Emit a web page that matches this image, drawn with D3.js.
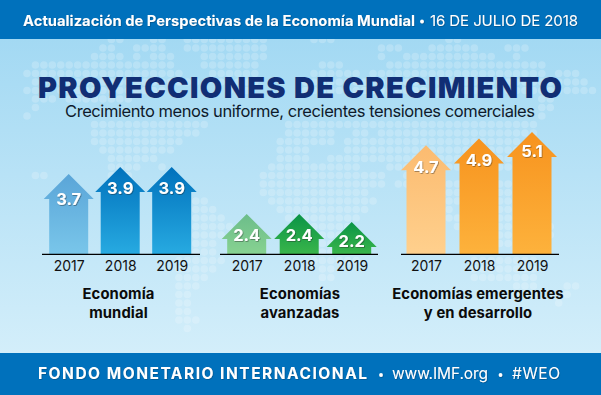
<!DOCTYPE html>
<html><head><meta charset="utf-8">
<script src="https://cdn.jsdelivr.net/npm/d3@7/dist/d3.min.js"></script>
<style>
html,body{margin:0;padding:0;background:#fff}
svg{display:block}
text{font-family:Inter,"Noto Sans",sans-serif}
</style></head><body><div id="c"></div>
<script>
const years = ["2017","2018","2019"];
const mundial = [3.7,3.9,3.9];
const avanzadas = [2.4,2.4,2.2];
const emergentes = [4.7,4.9,5.1];
const panelLabels = [["Economía","mundial"],["Economías","avanzadas"],["Economías emergentes","y en desarrollo"]];
const headerLead = "Actualización de Perspectivas de la Economía Mundial";
const headerDate = "16 DE JULIO DE 2018";
const titleText = "PROYECCIONES DE CRECIMIENTO";
const subtitleText = "Crecimiento menos uniforme, crecientes tensiones comerciales";
const footerOrg = "FONDO MONETARIO INTERNACIONAL";
const footerUrl = "www.IMF.org";
const footerTag = "#WEO";
// background dot-map: runs of columns per row
const mapRows = [
[[10,11],[15,16],[19,28],[34,36],[50,51]],
[[9,10],[13,16],[19,28],[42,44],[48,53],[57,59]],
[[8,11],[13,13],[15,17],[21,28],[42,42],[45,55],[58,58]],
[[1,17],[21,27],[35,37],[43,61]],
[[0,18],[22,27],[34,39],[41,61],[63,65]],
[[1,20],[23,27],[33,66]],
[[0,2],[4,16],[24,26],[33,67]],
[[1,3],[5,12],[61,62]],
[[1,1],[61,62]],
[[0,0],[61,61]],
[[8,21],[31,60]],
[[8,20],[31,36],[39,40],[42,60]],
[[8,18],[30,36],[38,58]],
[[9,17],[30,33],[38,58]],
[[10,15],[30,33],[36,58]],
[[10,13],[16,16],[29,39],[43,58]],
[[1,2],[10,12],[28,42],[45,46]],
[[28,42],[44,47],[50,51],[56,58]],
[[28,40],[50,51],[56,57]],
[[20,21],[29,41],[50,51],[56,57]],
[[20,22],[30,40],[50,50],[56,57]],
[[20,23],[31,39],[50,51],[56,57]],
[[20,24],[32,38],[51,51],[56,62]],
[[20,23],[33,37],[56,62]],
[[20,22],[33,37],[56,60]],
[[20,22],[33,36]],
[[18,23],[34,39],[53,60]],
[[18,22],[35,36],[53,60]],
[[18,21],[35,36],[53,60]],
[[18,20],[58,60],[64,65]],
[[18,19],[58,60],[64,64]],
[[18,19],[63,63]],
[[18,19]],
[[18,20]],
[[19,19]]
];

const W=601,H=395;
const svg=d3.select("#c").append("svg").attr("width",W).attr("height",H).attr("viewBox",`0 0 ${W} ${H}`);
const defs=svg.append("defs");
function grad(id,a,b){const g=defs.append("linearGradient").attr("id",id).attr("x1",0).attr("y1",0).attr("x2",0).attr("y2",1);
 g.append("stop").attr("offset",0).attr("stop-color",a);g.append("stop").attr("offset",1).attr("stop-color",b);}
grad("sky","#a3d9f3","#d3eefa");
grad("b0","#5aa5d8","#79c6ea");grad("b1","#0071bc","#27aae1");
grad("g0","#6cbd8a","#87d291");grad("g1","#0a9447","#39b54a");
grad("o0","#fbbb70","#ffd08d");grad("o1","#f7931e","#fdb23c");
const f=defs.append("filter").attr("id","ds").attr("x","-20%").attr("y","-30%").attr("width","140%").attr("height","170%");
f.append("feDropShadow").attr("dx",0.7).attr("dy",0.8).attr("stdDeviation",0.5).attr("flood-color","#222").attr("flood-opacity",0.5);
const f2=defs.append("filter").attr("id","ds2").attr("x","-5%").attr("y","-30%").attr("width","110%").attr("height","170%");
f2.append("feDropShadow").attr("dx",0.6).attr("dy",0.7).attr("stdDeviation",0.4).attr("flood-color","#003a66").attr("flood-opacity",0.6);

svg.append("rect").attr("y",39).attr("width",W).attr("height",314).attr("fill","url(#sky)");

// dot map
const dots=[];
mapRows.forEach((runs,r)=>runs.forEach(([a,b])=>{for(const c of d3.range(a,b+1))dots.push([c,r]);}));
const dx=d3.scaleLinear().domain([0,67]).range([27,27+67*8.44]);
const dy=d3.scaleLinear().domain([0,34]).range([39.5,39.5+34*8.5]);
svg.append("g").selectAll("circle").data(dots).join("circle")
 .attr("cx",d=>dx(d[0])).attr("cy",d=>dy(d[1])).attr("r",3.8).attr("fill","#fff").attr("opacity",0.2);

// bands
svg.append("rect").attr("width",W).attr("height",39).attr("fill","#0071bc");
svg.append("rect").attr("y",353).attr("width",W).attr("height",42).attr("fill","#0071bc");

// header
const hdr=svg.append("g").attr("fill","#fff").attr("filter","url(#ds2)");
hdr.append("text").attr("x",23).attr("y",26).attr("font-size",14.7).attr("font-weight",700).attr("textLength",392).text(headerLead);
hdr.append("circle").attr("cx",422).attr("cy",21.5).attr("r",1.9);
hdr.append("text").attr("x",430).attr("y",26).attr("font-size",15).attr("font-weight",400).attr("textLength",148).text(headerDate);

// title
svg.append("text").attr("x",38).attr("y",98).attr("font-size",29).attr("font-weight",900).attr("fill","#112e74").attr("textLength",524).text(titleText);
svg.append("text").attr("x",65).attr("y",117).attr("font-size",16.5).attr("font-weight",400).attr("fill","#0e1a2b").attr("textLength",470).text(subtitleText);

// panels
const baseY=254, minV=1.4;
const panels=[
 {vals:mundial,c:[68.7,171.7],ext:[42,200],top:167,maxV:3.9,g:["b0","b1"],lx:118.5,shift:[4,0,0]},
 {vals:avanzadas,c:[246.7,351.7],ext:[220,378],top:214,maxV:2.4,g:["g0","g1"],lx:300,shift:[0,0,-2]},
 {vals:emergentes,c:[426,532],ext:[401,559],top:132,maxV:5.1,g:["o0","o1"],lx:478,shift:[1,0,-2]}
];
const HW=25,HH=25,SW=19.5;
panels.forEach((p,pi)=>{
 const x=d3.scalePoint().domain(years).range(p.c);
 const y=d3.scaleLinear().domain([minV,p.maxV]).range([baseY,p.top]);
 const g=svg.append("g");
 const data=years.map((yr,i)=>({yr,v:p.vals[i],i}));
 g.selectAll("path.arrow").data(data).join("path").attr("class","arrow")
  .attr("d",d=>{const cx=x(d.yr),t=y(d.v),h=t+HH;
    const pth=d3.path();pth.moveTo(cx,t);pth.lineTo(cx+HW,h);pth.lineTo(cx+SW,h);pth.lineTo(cx+SW,baseY);
    pth.lineTo(cx-SW,baseY);pth.lineTo(cx-SW,h);pth.lineTo(cx-HW,h);pth.closePath();return pth.toString();})
  .attr("fill",d=>`url(#${p.g[d.i===0?0:1]})`);
 const ax=g.append("g").attr("transform",`translate(0,${baseY})`).call(d3.axisBottom(x).tickSize(0).tickPadding(7));
 ax.select(".domain").remove();
 ax.selectAll("text").attr("font-family","Inter").attr("font-size",14).attr("fill","#111");
 g.append("line").attr("x1",p.ext[0]).attr("x2",p.ext[1]).attr("y1",baseY+0.3).attr("y2",baseY+0.3).attr("stroke","#000").attr("stroke-width",1.3);
 g.selectAll("text.val").data(data).join("text").attr("class","val")
  .attr("x",d=>x(d.yr)).attr("y",d=>y(d.v)+27+p.shift[d.i]).attr("text-anchor","middle")
  .attr("font-size",16.5).attr("font-weight",700).attr("fill","#fff").attr("filter","url(#ds)")
  .text(d=>d3.format(".1f")(d.v));
 panelLabels[pi].forEach((t,k)=>g.append("text").attr("x",p.lx).attr("y",299+k*19).attr("text-anchor","middle")
  .attr("font-size",14.8).attr("font-weight",700).attr("letter-spacing",0.1).attr("fill","#0b0b0b").text(t));
});

// footer
const ft=svg.append("g").attr("fill","#fff").attr("filter","url(#ds2)");
ft.append("text").attr("x",38).attr("y",379).attr("font-size",15.5).attr("font-weight",700).attr("textLength",329).text(footerOrg);
ft.append("circle").attr("cx",381).attr("cy",375).attr("r",1.9);
ft.append("text").attr("x",392).attr("y",379).attr("font-size",15.5).attr("textLength",96).text(footerUrl);
ft.append("circle").attr("cx",500.5).attr("cy",375).attr("r",1.9);
ft.append("text").attr("x",512).attr("y",379).attr("font-size",15.5).attr("textLength",48).text(footerTag);
</script></body></html>
